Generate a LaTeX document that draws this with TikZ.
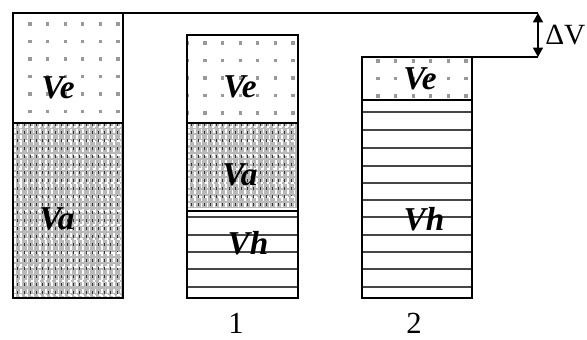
\documentclass[tikz,border=0pt]{standalone}
\usepackage{fontspec}
\setmainfont{Liberation Serif}
\usetikzlibrary{arrows.meta}

% dotted fill of the Ve part: x1,y1,x2,y2, first dot x0,y0
\newcommand{\vedots}[6]{%
  \begin{scope}
    \clip (#1,#2) rectangle (#3,#4);
    \foreach \i in {-1,...,6}
      \foreach \j in {-1,...,6}
        \fill[dot] ({#5+17.6*\i-1.6},{#6+17.5*\j-1.6}) rectangle ++(3.2,3.2);
  \end{scope}}
% grey texture of the Va part
\newcommand{\vatex}[4]{%
  \fill[gray!55] (#1,#2) rectangle (#3,#4);
  \begin{scope}
    \clip (#1,#2) rectangle (#3,#4);
    \foreach \i in {0,...,18}
      \draw[white, line width=1.3pt, dash pattern=on 3pt off 1.6pt] ({#1+2+6.2*\i},#2) -- ({#1+2+6.2*\i},#4);
    \foreach \i in {0,...,18}
      \draw[gray!40!black, line width=0.5pt, dash pattern=on 2pt off 4pt] ({#1+4.8+6.2*\i},#2) -- ({#1+4.8+6.2*\i},#4);
    \foreach \j in {0,...,14}
      \draw[white, line width=0.9pt, dash pattern=on 2pt off 2.6pt] (#1,{#2+4+14*\j}) -- (#3,{#2+4+14*\j});
  \end{scope}}

\begin{document}
\begin{tikzpicture}[x=0.75pt, y=-0.75pt, >={Triangle[width=7.5pt,length=7pt]},
  box/.style={draw=black, line width=1.3pt},
  hatch/.style={gray!55!black, line width=2pt},
  dot/.style={fill=gray!80},
  lbl/.style={font=\fontsize{25}{25}\selectfont\bfseries\itshape, inner sep=0pt},
  num/.style={font=\fontsize{23}{23}\selectfont, inner sep=0pt}]
\useasboundingbox (0,0) rectangle (587,340);
% column 0: Ve over Va
\vedots{13}{13}{123}{123}{30}{24}
\vatex{13}{123}{123}{298}
\draw[box] (13,13) rectangle (123,298);
\draw[box] (13,123) -- (123,123);
\node[lbl] (ve0) at (58,88) {Ve};
\node[lbl] (va0) at (57,219) {Va};
% column 1: Ve, Va, Vh
\vedots{187}{35}{298}{123}{205}{43}
\vatex{187}{123}{298}{208}
\foreach \y in {217,235,252,269,287}
  \draw[hatch] (187,\y) -- (298,\y);
\draw[box] (187,35) rectangle (298,298);
\draw[box] (187,123) -- (298,123);
\draw[box] (187,211) -- (298,211);
\node[lbl] (ve1) at (240,87) {Ve};
\node[lbl] (va1) at (240,175) {Va};
\node[lbl] (vh1) at (248,243) {Vh};
\node[num] (n1) at (236,323) {1};
% column 2: Ve over Vh
\vedots{362}{57}{472}{100}{378}{61}
\foreach \y in {112,130,148,166,183,200,217,235,252,269,287}
  \draw[hatch] (362,\y) -- (472,\y);
\draw[box] (362,57) rectangle (472,298);
\draw[box] (362,100) -- (472,100);
\node[lbl] (ve2) at (420,79) {Ve};
\node[lbl] (vh2) at (424,219) {Vh};
\node[num] (n2) at (414,323) {2};
% level difference
\coordinate (hi) at (538,13);
\coordinate (lo) at (538,57);
\draw[line width=0.9pt] (123,13) -- (hi);
\draw[line width=0.9pt] (472,57) -- (lo);
\draw[<->, line width=0.9pt] (hi) -- (lo);
\node[font=\fontsize{22}{22}\selectfont, anchor=west, inner sep=0pt] (dv) at (545,35) {ΔV};
\end{tikzpicture}
\end{document}
